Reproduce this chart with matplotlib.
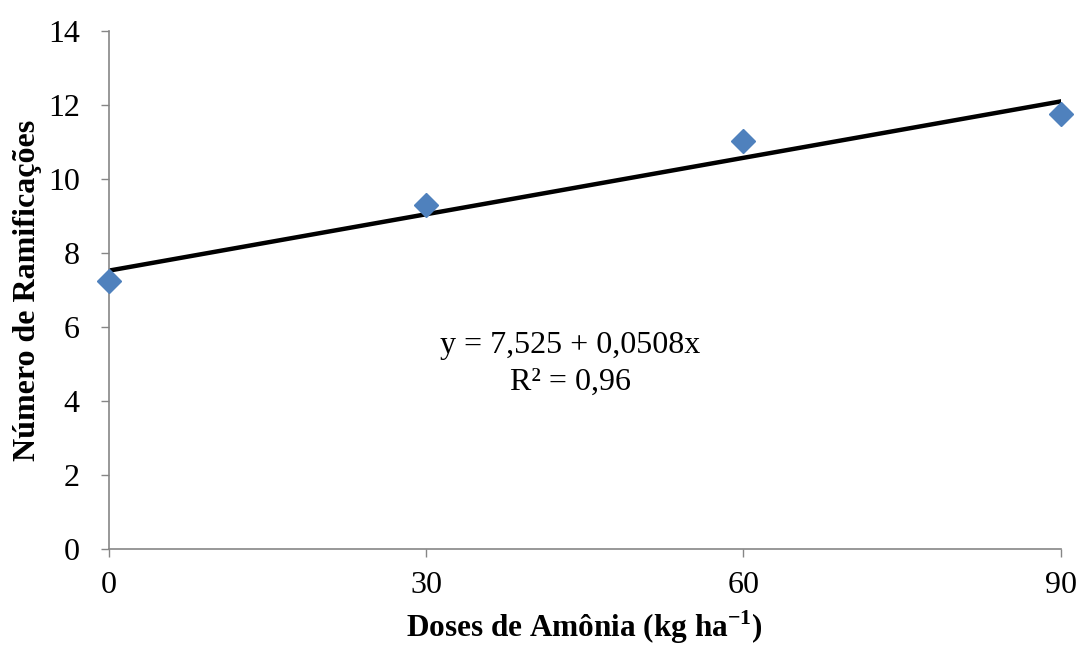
import numpy as np
import matplotlib.pyplot as plt

# Data
doses = [0, 30, 60, 90]
ramificacoes = [7.25, 9.3, 11.03, 11.77]
x_ticks = [0, 30, 60, 90]
y_ticks = [0, 2, 4, 6, 8, 10, 12, 14]

# Linear fit shown on the chart
intercept = 7.525
slope = 0.0508
trend_x = [0, 90]

plt.rcParams['font.family'] = ['Liberation Serif', 'DejaVu Serif']
plt.rcParams['mathtext.fontset'] = 'custom'
plt.rcParams['mathtext.rm'] = 'Liberation Serif'
plt.rcParams['mathtext.bf'] = 'Liberation Serif:bold'

fig = plt.figure(figsize=(10.79, 6.46), dpi=100)
ax = fig.add_axes([0.101, 0.150, 0.882, 0.802])

trend_y = [intercept + slope * xv for xv in trend_x]
ax.plot(trend_x, trend_y, color='black', linewidth=3.2, zorder=2)
ax.plot(doses, ramificacoes, linestyle='none', marker='D', markersize=12,
        color='#4F81BD', zorder=3, clip_on=False)

ax.set_xlim(0, 90)
ax.set_ylim(0, 14)
ax.set_xticks(x_ticks)
ax.set_yticks(y_ticks)
ax.tick_params(axis='both', labelsize=23, length=6, width=1, color='#868686',
               direction='out')
ax.tick_params(axis='x', pad=10)
ax.tick_params(axis='y', pad=15)

for side in ['top', 'right']:
    ax.spines[side].set_visible(False)
for side in ['left', 'bottom']:
    ax.spines[side].set_color('#868686')
    ax.spines[side].set_linewidth(1.2)

ax.set_xlabel('Doses de Amônia (kg ha$^{\\mathbf{-1}}$)', fontsize=22.5,
              fontweight='bold', labelpad=6)
ax.set_ylabel('Número de Ramificações', fontsize=23, fontweight='bold',
              labelpad=4)

ax.text(43.6, 5.5, 'y = 7,525 + 0,0508x', fontsize=23, ha='center', va='center')
ax.text(43.6, 4.5, 'R² = 0,96', fontsize=23, ha='center', va='center')

fig.savefig('out.png', dpi=100)
